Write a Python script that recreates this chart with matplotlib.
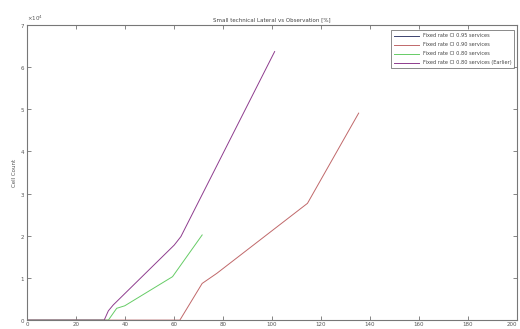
import matplotlib
matplotlib.use("Agg")
import matplotlib.pyplot as plt
import numpy as np

# series values (y in counts)
x_s1 = [0, 183]
y_s1 = [0, 0]

x_s2 = [0, 62.4, 71.5, 77.5, 114.5, 135.4]
y_s2 = [0, 0, 8700, 11100, 27700, 49100]

x_s3 = [0, 33.2, 36.6, 39.9, 59.4, 71.5]
y_s3 = [0, 0, 2800, 3400, 10300, 20200]

x_s4 = [0, 31.5, 33.2, 35.2, 60.1, 62.8, 101.1]
y_s4 = [0, 0, 2200, 3600, 17800, 19800, 63700]

labels = [
    "Fixed rate CI 0.95 services",
    "Fixed rate CI 0.90 services",
    "Fixed rate CI 0.80 services",
    "Fixed rate CI 0.80 services (Earlier)",
]
colors = ["#3c4470", "#c0686a", "#66cc66", "#8e3c8e"]

fig = plt.figure(figsize=(5.2, 3.29), dpi=100)
ax = fig.add_axes([0.052, 0.027, 0.942, 0.897])

for xs, ys, lab, c in zip(
    [x_s1, x_s2, x_s3, x_s4], [y_s1, y_s2, y_s3, y_s4], labels, colors
):
    ax.plot(xs, ys, color=c, linewidth=0.7, label=lab)

ax.set_xlim(0, 200)
ax.set_ylim(0, 70000)
ax.set_xticks(np.arange(0, 201, 20))
ax.set_yticks(np.arange(0, 70001, 10000))
ax.ticklabel_format(axis="y", style="sci", scilimits=(4, 4), useMathText=True)
ax.yaxis.get_offset_text().set_fontsize(4)
ax.yaxis.get_offset_text().set_color("#555555")

ax.tick_params(direction="in", length=3, width=0.5, labelsize=4,
               colors="#555555", top=True, right=True, pad=1.5)
for sp in ax.spines.values():
    sp.set_color("#777777")
    sp.set_linewidth(0.8)

# keep the last x tick label inside the figure
fig.canvas.draw()
ax.get_xticklabels()[-1].set_horizontalalignment("right")

ax.set_title("Small technical Lateral vs Observation [%]", fontsize=4,
             color="#444444", pad=3)
ax.set_ylabel("Cell Count", fontsize=4, color="#555555", labelpad=2)

leg = ax.legend(loc="upper right", fontsize=3.6, frameon=True, fancybox=False,
                borderpad=0.6, handlelength=5, labelspacing=0.8,
                bbox_to_anchor=(1.0, 0.99))
leg.get_frame().set_edgecolor("#555555")
leg.get_frame().set_linewidth(0.6)
for t in leg.get_texts():
    t.set_color("#444444")

fig.savefig("out.png", dpi=100)
